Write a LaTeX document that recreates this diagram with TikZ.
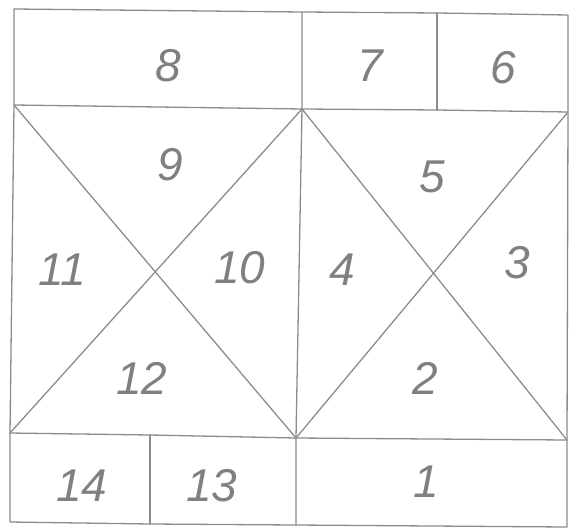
\documentclass[tikz,border=0pt]{standalone}
\usepackage{fontspec}
\setmainfont{Liberation Sans}
\begin{document}
\begin{tikzpicture}[x=1pt,y=-1pt,
  pen/.style={draw=black!45,line width=1.3pt,line join=round,line cap=round},
  num/.style={text=black!50,font=\fontsize{46}{46}\selectfont\itshape,inner sep=0pt}]
\useasboundingbox (0,0) rectangle (572,529);
% key points
\coordinate (TL) at (14,9);
\coordinate (TM) at (302,12);
\coordinate (T7) at (437,13);
\coordinate (TR) at (568,15);
\coordinate (ML) at (14,105);
\coordinate (MM) at (302,109);
\coordinate (M7) at (437,110);
\coordinate (MR) at (568,112);
\coordinate (BL) at (10,433);
\coordinate (B14) at (150,435);
\coordinate (BM) at (296,438);
\coordinate (BR) at (567,440);
\coordinate (EL) at (10,522);
\coordinate (E14) at (150,524);
\coordinate (EM) at (296,525);
\coordinate (ER) at (567,527);
% outline
\draw[pen] (TL) -- (TM) -- (T7) -- (TR) -- (MR) -- (BR) -- (ER) -- (EM) -- (E14) -- (EL) -- (BL) -- (ML) -- cycle;
\draw[pen] (ML) -- (MM) -- (M7) -- (MR);
\draw[pen] (BL) -- (B14) -- (BM) -- (BR);
\draw[pen] (TM) -- (MM) -- (BM) -- (EM);
\draw[pen] (T7) -- (M7);
\draw[pen] (B14) -- (E14);
% diagonals
\draw[pen] (ML) -- (BM);
\draw[pen] (MM) -- (BL);
\draw[pen] (MM) -- (BR);
\draw[pen] (MR) -- (BM);
% labels
\node[num] (n8) at (168,66) {8};
\node[num] (n7) at (370,66) {7};
\node[num] (n6) at (503,68) {6};
\node[num] (n9) at (170,165) {9};
\node[num] (n11) at (62,270) {11};
\node[num] (n10) at (240,268) {10};
\node[num] (n4) at (342,270) {4};
\node[num] (n5) at (432,177) {5};
\node[num] (n3) at (517,263) {3};
\node[num] (n12) at (142,378) {12};
\node[num] (n2) at (425,378) {2};
\node[num] (n14) at (82,486) {14};
\node[num] (n13) at (212,486) {13};
\node[num] (n1) at (426,482) {1};
\end{tikzpicture}
\end{document}
